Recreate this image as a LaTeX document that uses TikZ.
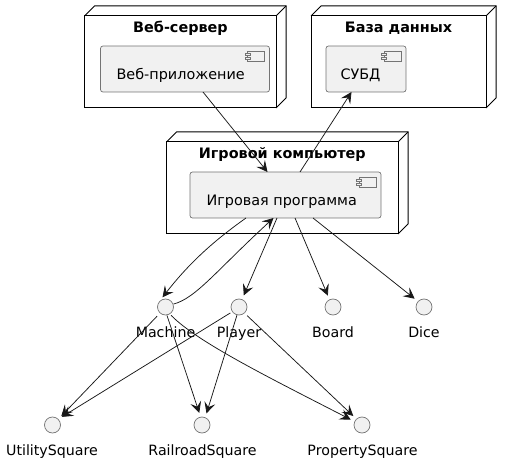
\documentclass[tikz,border=0pt]{standalone}
\usepackage{fontspec}
\setmainfont{DejaVu Sans}
\usetikzlibrary{arrows.meta}
\definecolor{umlline}{RGB}{24,24,24}
\definecolor{umlfill}{RGB}{241,241,241}
\tikzset{
	nodebox/.style={rectangle, draw=black, line width=1pt, inner sep=0pt, outer sep=0pt, minimum width=#1, minimum height=92pt},
	compbox/.style={rectangle, rounded corners=2.5pt, draw=umlline!60, fill=umlfill, line width=0.7pt, inner sep=0pt, outer sep=0pt, minimum width=#1, minimum height=46pt},
	roundnode/.style={circle, draw=umlline!60, fill=umlfill, line width=0.7pt, inner sep=0pt, outer sep=0.5pt, minimum size=16pt},
	nodetitle/.style={font=\bfseries\fontsize{14.4}{16}\selectfont, text=black, inner sep=0pt, text height=11pt, text depth=3pt},
	plainlabel/.style={font=\fontsize{14.4}{16}\selectfont, text=black, inner sep=0pt, text height=11pt, text depth=3pt},
	roundlabel/.style={font=\fontsize{14.2}{16}\selectfont, text=black, inner sep=0pt, text height=11pt, text depth=3pt},
	arrowline/.style={-{Stealth[length=11pt, width=11pt, inset=4.5pt]}, draw=umlline, line width=0.75pt},
	toround/.style={arrowline, shorten >=4pt}
}
\begin{document}
\begin{tikzpicture}[x=1pt, y=-1pt]
		\useasboundingbox (0,0) rectangle (511,462);

		\node[nodebox=191.5pt] at (180.25,62) (websrv) {};
		\node[nodebox=175pt] at (398.5,62) (dbsrv) {};
		\node[nodebox=231.5pt] at (282.25,188) (gamepc) {};
		\foreach \n in {websrv,dbsrv,gamepc}{
			\draw[line width=1pt] (\n.north west) -- ++(10,-10) -- ([shift={(10,-10)}]\n.north east) -- ([shift={(10,-10)}]\n.south east) -- (\n.south east);
			\draw[line width=1pt] (\n.north east) -- ++(10,-10);
		}
		\node[nodetitle] at (180.5,29) (websrvt) {Веб-сервер};
		\node[nodetitle] at (398.5,29) (dbsrvt) {База данных};
		\node[nodetitle] at (282.3,155) (gamepct) {Игровой компьютер};

		\node[compbox=169pt] at (185,69) (webapp) {};
		\node[compbox=80pt] at (366,69) (dbms) {};
		\node[compbox=191pt] at (285.5,195) (gameprog) {};
		\foreach \n in {webapp,dbms,gameprog}{
			\draw[draw=umlline!60, fill=umlfill, line width=0.7pt] ([shift={(-22,5.5)}]\n.north east) rectangle ++(17,10);
			\draw[draw=umlline!60, fill=umlfill, line width=0.7pt] ([shift={(-24.5,7.5)}]\n.north east) rectangle ++(5,2);
			\draw[draw=umlline!60, fill=umlfill, line width=0.7pt] ([shift={(-24.5,11)}]\n.north east) rectangle ++(5,2);
		}
		\node[plainlabel] at (180.7,75.5) (webappt) {Веб-приложение};
		\node[plainlabel] at (360.5,75.5) (dbmst) {СУБД};
		\node[plainlabel] at (281.7,201.5) (gameprogt) {Игровая программа};

		\node[roundnode] at (165.5,307) (machine) {};
		\node[roundnode] at (239,307) (player) {};
		\node[roundnode] at (333,307) (board) {};
		\node[roundnode] at (424,307) (dice) {};
		\node[roundnode] at (52.5,425) (utility) {};
		\node[roundnode] at (202,425) (railroad) {};
		\node[roundnode] at (362,425) (property) {};

		\node[roundlabel] at (165.5,333) (machinet) {Machine};
		\node[roundlabel] at (239,333) (playert) {Player};
		\node[roundlabel] at (333,333) (boardt) {Board};
		\node[roundlabel] at (424,333) (dicet) {Dice};
		\node[roundlabel] at (52,451) (utilityt) {UtilitySquare};
		\node[roundlabel] at (202.5,451) (railroadt) {RailroadSquare};
		\node[roundlabel] at (362.5,451) (propertyt) {PropertySquare};

		\draw[arrowline] ([xshift=18pt]webapp.south) -- ([xshift=-18pt]gameprog.north);
		\draw[arrowline] ([xshift=14.5pt]gameprog.north) -- ([xshift=-14.5pt]dbms.south);
		\draw[toround] ([xshift=-39.5pt]gameprog.south) .. controls (215,240) and (190,262) .. (machine.130);
		\draw[arrowline] (machine.20) .. controls (196,298) and (215,272) .. ([xshift=-12pt]gameprog.south);
		\draw[toround] ([xshift=-8.5pt]gameprog.south) -- (player.68);
		\draw[toround] ([xshift=9.5pt]gameprog.south) -- (board.115);
		\draw[toround] ([xshift=27.5pt]gameprog.south) -- (dice.137);

		\draw[toround, shorten <=4pt] (machine.228) -- (utility.45);
		\draw[toround] (machine.-80) -- (railroad.100);
		\draw[toround, shorten <=1.5pt] (machine.-58) .. controls (197,342) and (270,378) .. (property.155);
		\draw[toround, shorten <=2pt] (player.215) -- (utility.45);
		\draw[toround] (player.256) -- (railroad.67);
		\draw[toround, shorten <=3.5pt] (player.-48) -- (property.133);
	\end{tikzpicture}
\end{document}
